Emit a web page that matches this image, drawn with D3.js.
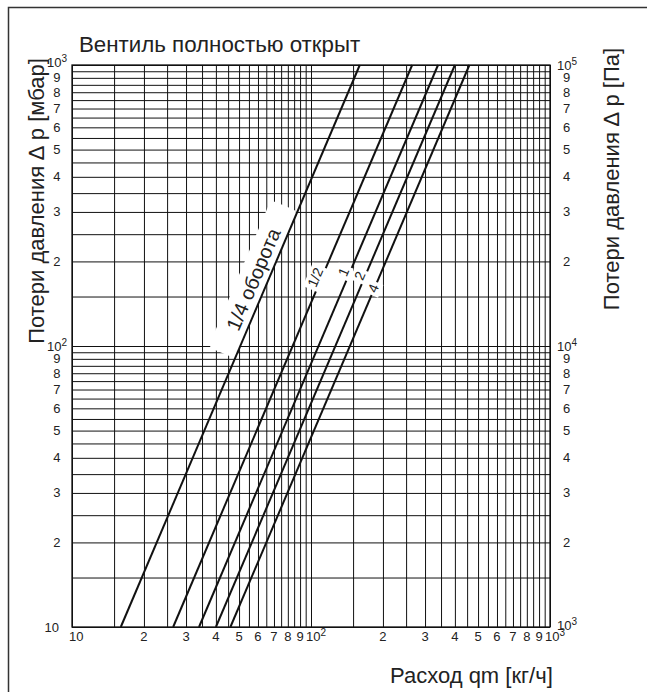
<!DOCTYPE html>
<html>
<head>
<meta charset="utf-8">
<script src="https://cdn.jsdelivr.net/npm/d3@7"></script>
<style>
body { margin: 0; background: #fff; }
svg { display: block; }
text { font-family: "Liberation Sans", Arial, sans-serif; fill: #222; }
</style>
</head>
<body>
<div id="chart"></div>
<script>
// pressure loss lines
// flow [kg/h] where each line hits 10 mbar and 1000 mbar
var curveNames = ["1/4 оборота", "1/2", "1", "2", "4"];
var flowLow = [16, 26.5, 34, 40, 46];
var flowHigh = [160, 265, 340, 400, 460];
var dpLow = 10, dpHigh = 1000;
// where the name of each line sits (mbar) and how far it is pushed off the line
var labelDp = [165, 172, 180, 175, 160];
var labelShift = [-14, -6, -6, -5, -1];
var labelSize = [20, 14, 14, 14, 14];

// grid: every half step inside a decade
var gridSteps = [1, 1.5, 2, 2.5, 3, 3.5, 4, 4.5, 5, 5.5, 6, 6.5, 7, 7.5, 8, 8.5, 9, 9.5];
var decades = [10, 100];

// tick labels ("b^e" means power)
var tickValues = [10, 20, 30, 40, 50, 60, 70, 80, 90, 100, 200, 300, 400, 500, 600, 700, 800, 900, 1000];
var xTickLabels = ["10", "2", "3", "4", "5", "6", "7", "8", "9", "10^2", "2", "3", "4", "5", "6", "7", "8", "9", "10^3"];
var leftTickLabels = ["10", "2", "3", "4", "5", "6", "7", "8", "9", "10^2", "2", "3", "4", "5", "6", "7", "8", "9", "10^3"];
var rightTickLabels = ["10^3", "2", "3", "4", "5", "6", "7", "8", "9", "10^4", "2", "3", "4", "5", "6", "7", "8", "9", "10^5"];

var title = "Вентиль полностью открыт";
var leftTitle = "Потери давления ∆ p [мбар]";
var rightTitle = "Потери давления ∆ p [Па]";
var xTitle = "Расход qm [кг/ч]";

var W = 647, H = 692;
// plot box (window.top is taken, so p-prefixed names)
var pLeft = 72, pRight = 550, pTop = 65, pBottom = 627;

var svg = d3.select("#chart").append("svg")
	.attr("width", W)
	.attr("height", H);

// outer frame, cut by the page on the right and below
svg.append("path")
	.attr("d", "M8.5," + H + " V7.5 H" + W)
	.attr("fill", "none")
	.attr("stroke", "#333")
	.attr("stroke-width", 1.5);

var x = d3.scaleLog().domain([10, 1000]).range([pLeft, pRight]);
var y = d3.scaleLog().domain([10, 1000]).range([pBottom, pTop]);

var gridVals = [];
decades.forEach(function(d) {
	gridSteps.forEach(function(s) { gridVals.push(d * s); });
});
gridVals.push(1000);

// vertical grid
var gx = svg.append("g")
	.attr("transform", "translate(0," + pBottom + ")")
	.call(d3.axisBottom(x).tickValues(gridVals).tickSize(-(pBottom - pTop)).tickFormat(""));
gx.select(".domain").remove();
gx.selectAll("line").attr("stroke", "#111").attr("stroke-width", 1);

// horizontal grid
var gy = svg.append("g")
	.attr("transform", "translate(" + pLeft + ",0)")
	.call(d3.axisLeft(y).tickValues(gridVals).tickSize(-(pRight - pLeft)).tickFormat(""));
gy.select(".domain").remove();
gy.selectAll("line").attr("stroke", "#111").attr("stroke-width", 1);

// plot border
svg.append("rect")
	.attr("x", pLeft).attr("y", pTop)
	.attr("width", pRight - pLeft).attr("height", pBottom - pTop)
	.attr("fill", "none")
	.attr("stroke", "#111")
	.attr("stroke-width", 1.3);

// helper: write "10^2" as 10 with a raised exponent
function writeLabel(g, label, px, py, anchor) {
	var parts = label.split("^");
	var t = g.append("text")
		.attr("x", px).attr("y", py)
		.attr("font-size", 13)
		.attr("text-anchor", anchor)
		.text(parts[0]);
	if (parts.length > 1) {
		t.append("tspan")
			.attr("dy", -5)
			.attr("font-size", 10)
			.text(parts[1]);
	}
}

var labels = svg.append("g");

// x tick labels
tickValues.forEach(function(v, i) {
	var lab = xTickLabels[i];
	if (lab.indexOf("^") >= 0) {
		writeLabel(labels, lab, x(v) - 5, 641, "start");
	} else if (i == 0) {
		writeLabel(labels, lab, x(v) - 3, 641, "start");
	} else {
		writeLabel(labels, lab, x(v), 641, "middle");
	}
});

// left tick labels
tickValues.forEach(function(v, i) {
	var lab = leftTickLabels[i];
	var py = y(v) + 4.5;
	if (i == tickValues.length - 1) py -= 3;
	if (lab.indexOf("^") >= 0) {
		writeLabel(labels, lab, 47, py, "start");
	} else if (i == 0) {
		writeLabel(labels, lab, 59, py, "end");
	} else {
		writeLabel(labels, lab, 60.5, py, "end");
	}
});

// right tick labels
tickValues.forEach(function(v, i) {
	var lab = rightTickLabels[i];
	var py = y(v) + 4.5;
	if (i == 0) py -= 2;
	if (lab.indexOf("^") >= 0) {
		writeLabel(labels, lab, 557, py, "start");
	} else {
		writeLabel(labels, lab, 566.5, py, "middle");
	}
});

// titles
svg.append("text")
	.attr("x", 79).attr("y", 52)
	.attr("font-size", 22.3)
	.text(title);

svg.append("text")
	.attr("transform", "translate(44,201) rotate(-90)")
	.attr("text-anchor", "middle")
	.attr("font-size", 22)
	.text(leftTitle);

svg.append("text")
	.attr("transform", "translate(619,179) rotate(-90)")
	.attr("text-anchor", "middle")
	.attr("font-size", 22)
	.text(rightTitle);

svg.append("text")
	.attr("x", 390).attr("y", 683)
	.attr("font-size", 22)
	.text(xTitle);

// lines
var curves = curveNames.map(function(name, i) {
	return {
		name: name,
		pts: [[flowLow[i], dpLow], [flowHigh[i], dpHigh]],
		labelDp: labelDp[i],
		shift: labelShift[i],
		size: labelSize[i]
	};
});

function labelPlace(c) {
	var x1 = x(c.pts[0][0]), y1 = y(c.pts[0][1]);
	var x2 = x(c.pts[1][0]), y2 = y(c.pts[1][1]);
	var t = (Math.log(c.labelDp) - Math.log(c.pts[0][1])) / (Math.log(c.pts[1][1]) - Math.log(c.pts[0][1]));
	var ang = Math.atan2(y2 - y1, x2 - x1) * 180 / Math.PI;
	return {x: x1 + t * (x2 - x1), y: y1 + t * (y2 - y1), ang: ang};
}

// white band behind the big label (drawn under the lines)
var big = curves[0], bp = labelPlace(big);
svg.append("rect")
	.attr("transform", "translate(" + bp.x + "," + bp.y + ") rotate(" + bp.ang + ") translate(0," + big.shift + ")")
	.attr("x", -80).attr("y", -15)
	.attr("width", 160).attr("height", 29)
	.attr("rx", 5)
	.attr("fill", "#fff");

var line = d3.line()
	.x(function(d) { return x(d[0]); })
	.y(function(d) { return y(d[1]); });

svg.append("g").selectAll("path")
	.data(curves)
	.enter()
	.append("path")
	.attr("d", function(d) { return line(d.pts); })
	.attr("fill", "none")
	.attr("stroke", "#111")
	.attr("stroke-width", 2);

// line names
curves.forEach(function(c, i) {
	var p = labelPlace(c);
	var g = svg.append("g")
		.attr("transform", "translate(" + p.x + "," + p.y + ") rotate(" + p.ang + ") translate(0," + c.shift + ")");
	var txt = g.append("text")
		.attr("text-anchor", "middle")
		.attr("dy", "0.35em")
		.attr("font-size", c.size)
		.text(c.name);
	if (i > 0) {
		var w = txt.node().getComputedTextLength();
		g.insert("rect", "text")
			.attr("x", -w / 2 - 3).attr("y", -8)
			.attr("width", w + 6).attr("height", 16)
			.attr("fill", "#fff");
	}
});
</script>
</body>
</html>
